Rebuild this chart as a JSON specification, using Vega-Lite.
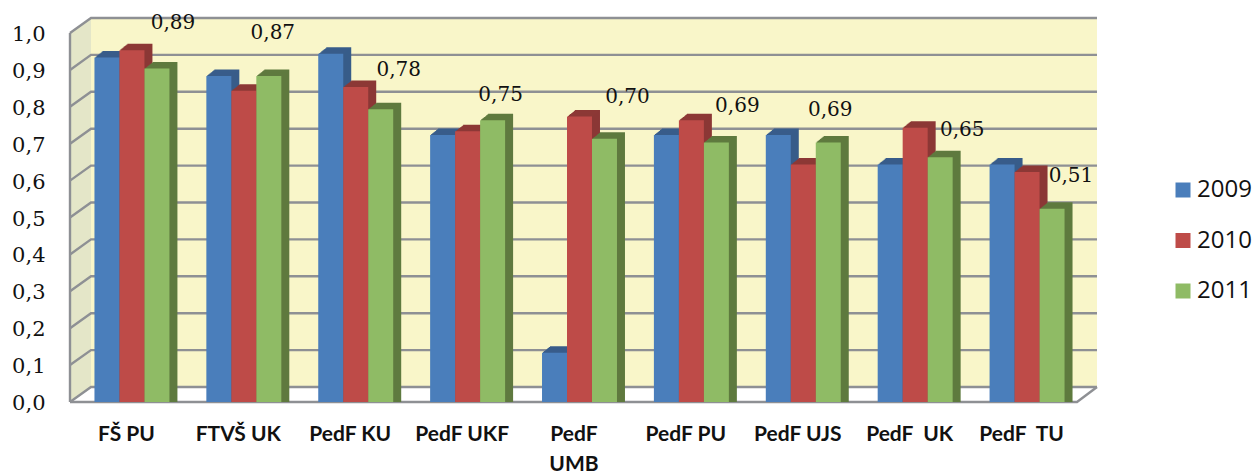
{"$schema":"https://vega.github.io/schema/vega-lite/v6.json","width":1027,"height":385,"autosize":"none","padding":{"left":70,"top":17,"right":161,"bottom":72},"background":"white","config":{"view":{"stroke":null},"axisY":{"labelOverlap":false,"labelSeparation":0}},
"data":{"values":[
{"cat":"FŠ PU","year":"2009","v":0.92},{"cat":"FŠ PU","year":"2010","v":0.94},{"cat":"FŠ PU","year":"2011","v":0.89,"label":"0,89"},
{"cat":"FTVŠ UK","year":"2009","v":0.87},{"cat":"FTVŠ UK","year":"2010","v":0.83},{"cat":"FTVŠ UK","year":"2011","v":0.87,"label":"0,87"},
{"cat":"PedF KU","year":"2009","v":0.93},{"cat":"PedF KU","year":"2010","v":0.84},{"cat":"PedF KU","year":"2011","v":0.78,"label":"0,78"},
{"cat":"PedF UKF","year":"2009","v":0.71},{"cat":"PedF UKF","year":"2010","v":0.72},{"cat":"PedF UKF","year":"2011","v":0.75,"label":"0,75"},
{"cat":"PedF UMB","year":"2009","v":0.12},{"cat":"PedF UMB","year":"2010","v":0.76},{"cat":"PedF UMB","year":"2011","v":0.70,"label":"0,70"},
{"cat":"PedF PU","year":"2009","v":0.71},{"cat":"PedF PU","year":"2010","v":0.75},{"cat":"PedF PU","year":"2011","v":0.69,"label":"0,69"},
{"cat":"PedF UJS","year":"2009","v":0.71},{"cat":"PedF UJS","year":"2010","v":0.63},{"cat":"PedF UJS","year":"2011","v":0.69,"label":"0,69"},
{"cat":"PedF UK","year":"2009","v":0.63},{"cat":"PedF UK","year":"2010","v":0.73},{"cat":"PedF UK","year":"2011","v":0.65,"label":"0,65"},
{"cat":"PedF TU","year":"2009","v":0.63},{"cat":"PedF TU","year":"2010","v":0.61},{"cat":"PedF TU","year":"2011","v":0.51,"label":"0,51"}
]},
"resolve":{"scale":{"x":"independent","xOffset":"independent"}},
"layer":[
{"data":{"values":[{"a":21,"b":1027,"lo":0.0407,"hi":1.0407}]},
 "mark":{"type":"rect","color":"#f9f6c9"},
 "encoding":{"x":{"field":"a","type":"quantitative","scale":{"domain":[0,1027],"nice":false,"zero":false},"axis":null},"x2":{"field":"b"},
 "y":{"field":"lo","type":"quantitative","scale":{"domain":[0,1.0434],"nice":false},"axis":{"values":[0,0.1,0.2,0.3,0.4,0.5,0.6,0.7,0.8,0.9,1.0],"tickCount":11,"title":null,"grid":false,"domain":false,"ticks":false,"labelOverlap":false,"labelPadding":25,"labelOffset":1.5,"labelFont":"DejaVu Serif","labelFontSize":21,"labelColor":"#111111","labelExpr":"replace(format(datum.value,'.1f'),'.',',')"}},"y2":{"field":"hi"}}},
{"data":{"values":[{"a":0,"lo":0,"hi":1.0},{"a":21,"lo":0.0407,"hi":1.0407}]},
 "mark":{"type":"area","color":"#e4e6c8"},
 "encoding":{"x":{"field":"a","type":"quantitative","scale":{"domain":[0,1027],"nice":false,"zero":false},"axis":null},"y":{"field":"lo","type":"quantitative","scale":{"domain":[0,1.0434],"nice":false}},"y2":{"field":"hi"}}},
{"data":{"values":[
{"g":"0","a":0,"p":0},{"g":"0","a":21,"p":0.0407},{"g":"0","a":1027,"p":0.0407},
{"g":"1","a":0,"p":0.1},{"g":"1","a":21,"p":0.1407},{"g":"1","a":1027,"p":0.1407},
{"g":"2","a":0,"p":0.2},{"g":"2","a":21,"p":0.2407},{"g":"2","a":1027,"p":0.2407},
{"g":"3","a":0,"p":0.3},{"g":"3","a":21,"p":0.3407},{"g":"3","a":1027,"p":0.3407},
{"g":"4","a":0,"p":0.4},{"g":"4","a":21,"p":0.4407},{"g":"4","a":1027,"p":0.4407},
{"g":"5","a":0,"p":0.5},{"g":"5","a":21,"p":0.5407},{"g":"5","a":1027,"p":0.5407},
{"g":"6","a":0,"p":0.6},{"g":"6","a":21,"p":0.6407},{"g":"6","a":1027,"p":0.6407},
{"g":"7","a":0,"p":0.7},{"g":"7","a":21,"p":0.7407},{"g":"7","a":1027,"p":0.7407},
{"g":"8","a":0,"p":0.8},{"g":"8","a":21,"p":0.8407},{"g":"8","a":1027,"p":0.8407},
{"g":"9","a":0,"p":0.9},{"g":"9","a":21,"p":0.9407},{"g":"9","a":1027,"p":0.9407},
{"g":"10","a":0,"p":1.0},{"g":"10","a":21,"p":1.0407},{"g":"10","a":1027,"p":1.0407},
{"g":"left","a":0,"p":0},{"g":"left","a":0,"p":1.0},
{"g":"floor","a":0,"p":0},{"g":"floor","a":1007,"p":0},{"g":"floor","a":1027,"p":0.0407}
]},
 "mark":{"type":"line","color":"#8e9094","strokeWidth":2.4,"clip":false},
 "encoding":{"x":{"field":"a","type":"quantitative","scale":{"domain":[0,1027],"nice":false,"zero":false},"axis":null},"y":{"field":"p","type":"quantitative","scale":{"domain":[0,1.0434],"nice":false}},"detail":{"field":"g"},"order":{"field":"a"}}},
{"resolve":{"scale":{"x":"independent","xOffset":"independent"}},
 "encoding":{
 "y":{"field":"v","type":"quantitative","stack":null,"scale":{"domain":[0,1.0434],"nice":false}},
 "xOffset":{"field":"year","type":"nominal","sort":["2009","2010","2011"]}},
 "layer":[
 {"resolve":{"scale":{"x":"independent","xOffset":"independent"}},
  "encoding":{"color":{"condition":[{"test":"datum.year=='2009'","value":"#385d8a"},{"test":"datum.year=='2010'","value":"#8c3836"}],"value":"#5f7a3f"}},
  "layer":[
  {"mark":{"type":"bar","yOffset":-11.5,"y2Offset":-11.5},"encoding":{"x":{"field":"cat","type":"nominal","sort":null,"axis":null,"scale":{"range":[14,1021],"paddingInner":0.33,"paddingOuter":0.165}}}},
  {"mark":{"type":"bar","yOffset":-10.7,"y2Offset":-10.7},"encoding":{"x":{"field":"cat","type":"nominal","sort":null,"axis":null,"scale":{"range":[13,1020],"paddingInner":0.33,"paddingOuter":0.165}}}},
  {"mark":{"type":"bar","yOffset":-9.9,"y2Offset":-9.9},"encoding":{"x":{"field":"cat","type":"nominal","sort":null,"axis":null,"scale":{"range":[12,1019],"paddingInner":0.33,"paddingOuter":0.165}}}},
  {"mark":{"type":"bar","yOffset":-9.1,"y2Offset":-9.1},"encoding":{"x":{"field":"cat","type":"nominal","sort":null,"axis":null,"scale":{"range":[11,1018],"paddingInner":0.33,"paddingOuter":0.165}}}},
  {"mark":{"type":"bar","yOffset":-8.3,"y2Offset":-8.3},"encoding":{"x":{"field":"cat","type":"nominal","sort":null,"axis":null,"scale":{"range":[10,1017],"paddingInner":0.33,"paddingOuter":0.165}}}},
  {"mark":{"type":"bar","yOffset":-7.5,"y2Offset":-7.5},"encoding":{"x":{"field":"cat","type":"nominal","sort":null,"axis":null,"scale":{"range":[9,1016],"paddingInner":0.33,"paddingOuter":0.165}}}},
  {"mark":{"type":"bar","yOffset":-6.7,"y2Offset":-6.7},"encoding":{"x":{"field":"cat","type":"nominal","sort":null,"axis":null,"scale":{"range":[8,1015],"paddingInner":0.33,"paddingOuter":0.165}}}},
  {"mark":{"type":"bar","yOffset":-5.9,"y2Offset":-5.9},"encoding":{"x":{"field":"cat","type":"nominal","sort":null,"axis":null,"scale":{"range":[7,1014],"paddingInner":0.33,"paddingOuter":0.165}}}}]},
  {"mark":{"type":"bar","yOffset":-5,"y2Offset":-5},
  "encoding":{"x":{"field":"cat","type":"nominal","sort":null,"axis":null,"scale":{"range":[6,1013],"paddingInner":0.33,"paddingOuter":0.165}},
  "color":{"field":"year","type":"nominal","title":null,"scale":{"domain":["2009","2010","2011"],"range":["#4a7ebb","#be4b48","#8fbb65"]},
   "legend":{"orient":"none","legendX":1101,"legendY":161,"padding":0,"symbolType":"square","symbolSize":225,"symbolStrokeWidth":0,"labelFont":"Open Sans","labelFontSize":24,"labelColor":"#111111","labelOffset":2,"rowPadding":26.5}}}}
 ]},
{"transform":[{"filter":"datum.label"}],
 "encoding":{"text":{"field":"label"},
 "x":{"field":"cat","type":"nominal","sort":null,"scale":{"range":[0,1007],"paddingInner":0.33,"paddingOuter":0.165},"axis":{"title":null,"domain":false,"ticks":false,"grid":false,"labelAngle":0,"labelPadding":21,"labelFont":"Lato","labelFontWeight":"bold","labelFontSize":21,"labelColor":"#111111","labelLineHeight":30,"labelBaseline":"top","labelLimit":0,"labelExpr":"datum.value=='PedF UMB'?['PedF','UMB']:datum.value=='PedF UK'?'PedF\u00a0\u00a0UK':datum.value=='PedF TU'?'PedF\u00a0\u00a0TU':datum.value"}},
 "y":{"field":"v","type":"quantitative","scale":{"domain":[0,1.0434],"nice":false}}},
  "layer":[
  {"transform":[{"filter":"datum.cat=='FŠ PU'"}],"mark":{"type":"text","font":"DejaVu Serif","fontSize":20,"color":"#111111","baseline":"middle","dx":47,"dy":-51}},
  {"transform":[{"filter":"datum.cat=='FTVŠ UK'"}],"mark":{"type":"text","font":"DejaVu Serif","fontSize":20,"color":"#111111","baseline":"middle","dx":35,"dy":-48}},
  {"transform":[{"filter":"datum.cat=='PedF KU'"}],"mark":{"type":"text","font":"DejaVu Serif","fontSize":20,"color":"#111111","baseline":"middle","dx":49,"dy":-44}},
  {"transform":[{"filter":"datum.cat=='PedF UKF'"}],"mark":{"type":"text","font":"DejaVu Serif","fontSize":20,"color":"#111111","baseline":"middle","dx":39,"dy":-30}},
  {"transform":[{"filter":"datum.cat=='PedF UMB'"}],"mark":{"type":"text","font":"DejaVu Serif","fontSize":20,"color":"#111111","baseline":"middle","dx":54,"dy":-47}},
  {"transform":[{"filter":"datum.cat=='PedF PU'"}],"mark":{"type":"text","font":"DejaVu Serif","fontSize":20,"color":"#111111","baseline":"middle","dx":52,"dy":-41}},
  {"transform":[{"filter":"datum.cat=='PedF UJS'"}],"mark":{"type":"text","font":"DejaVu Serif","fontSize":20,"color":"#111111","baseline":"middle","dx":33,"dy":-37}},
  {"transform":[{"filter":"datum.cat=='PedF UK'"}],"mark":{"type":"text","font":"DejaVu Serif","fontSize":20,"color":"#111111","baseline":"middle","dx":53,"dy":-32}},
  {"transform":[{"filter":"datum.cat=='PedF TU'"}],"mark":{"type":"text","font":"DejaVu Serif","fontSize":20,"color":"#111111","baseline":"middle","dx":50,"dy":-38}}]}
]}
